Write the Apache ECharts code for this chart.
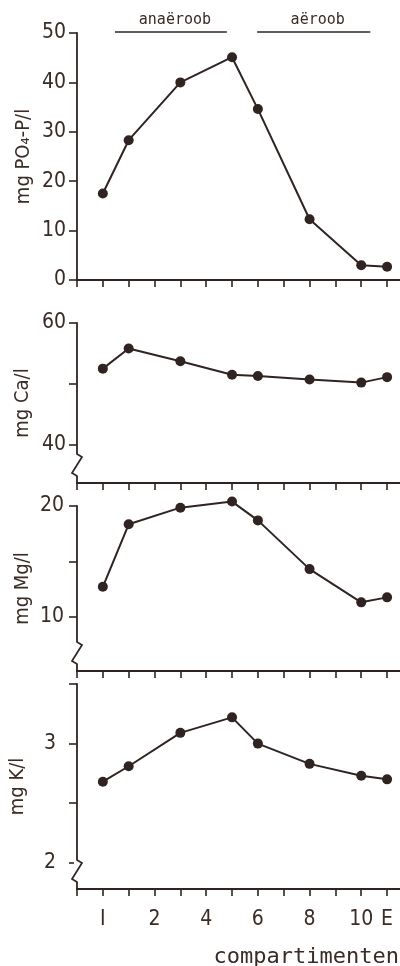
<!DOCTYPE html>
<html><head><meta charset="utf-8">
<script src="https://cdn.jsdelivr.net/npm/echarts@6/dist/echarts.min.js"></script>
<style>html,body{margin:0;padding:0;background:#fff}#c{width:400px;height:966px}</style>
</head><body><div id="c"></div>
<script>
// ---- data ----
const xPositions = [0, 1, 3, 5, 6, 8, 10, 11];
const xTickValues = [-1, 0, 1, 2, 3, 4, 5, 6, 7, 8, 9, 10, 11];
const xLabelValues = [0, 2, 4, 6, 8, 10, 11];
const xLabelText = {0: 'I', 2: '2', 4: '4', 6: '6', 8: '8', 10: '10', 11: 'E'};
const po4 = [17.5, 28.3, 40, 45.1, 34.6, 12.3, 3.0, 2.7];
const ca = [52.5, 55.8, 53.7, 51.5, 51.3, 50.7, 50.2, 51.1];
const mg = [12.7, 18.35, 19.85, 20.4, 18.7, 14.3, 11.3, 11.75];
const kal = [2.68, 2.81, 3.09, 3.22, 3.0, 2.83, 2.73, 2.70];
const yNames = ['mg PO₄-P/l', 'mg Ca/l', 'mg Mg/l', 'mg K/l'];
const yTicks = [[0, 10, 20, 30, 40, 50], [40, 50, 60], [10, 15, 20], [2, 2.5, 3, 3.5]];
const yLabels = [[0, 10, 20, 30, 40, 50], [40, 60], [10, 20], [2, 3]];
const yRanges = [[0, 50], [33.7, 60], [5.1, 20], [1.78, 3.5]];
const phases = [{name: 'anaëroob', from: 0.47, to: 4.8}, {name: 'aëroob', from: 5.97, to: 10.35}];
const xTitle = 'compartimenten';
const seriesValues = [po4, ca, mg, kal];

// ---- style / layout ----
const INK = '#2f2421';
const TXT = '#3a2b26';
const grids = [{top: 33, height: 247}, {top: 323, height: 160}, {top: 506, height: 165}, {top: 684, height: 205}];
const labelMargins = [11, 11, 13, 21];
const nameGaps = [43, 44, 44, 49];
const FONT = '"DejaVu Sans Condensed", "DejaVu Sans", sans-serif';

const chart = echarts.init(document.getElementById('c'), null, {renderer: 'canvas'});

const option = {
  backgroundColor: '#fff',
  animation: false,
  grid: grids.map(g => ({left: 77, right: 0, top: g.top, height: g.height, containLabel: false})),
  xAxis: grids.map((g, i) => ({
    type: 'value', gridIndex: i, min: -1, max: 11.5,
    axisLine: {show: true, onZero: false, lineStyle: {color: INK, width: 1.8}},
    axisTick: {show: true, inside: false, length: 7, customValues: xTickValues, lineStyle: {color: INK, width: 1.6}},
    axisLabel: {show: i === 3, customValues: xLabelValues, margin: 20, color: TXT, fontSize: 21, fontFamily: FONT,
      formatter: v => xLabelText[v] !== undefined ? xLabelText[v] : ''},
    splitLine: {show: false}
  })),
  yAxis: grids.map((g, i) => ({
    type: 'value', gridIndex: i, min: yRanges[i][0], max: yRanges[i][1],
    name: yNames[i], nameLocation: 'middle', nameRotate: 90, nameGap: nameGaps[i], nameMoveOverlap: false,
    nameTextStyle: {color: TXT, fontSize: 20, fontFamily: FONT},
    axisLine: {show: true, onZero: false, lineStyle: {color: INK, width: 1.8}},
    axisTick: {show: true, inside: false, length: 8, customValues: yTicks[i], lineStyle: {color: INK, width: 1.6}},
    axisLabel: {show: true, customValues: yLabels[i], margin: labelMargins[i], color: TXT, fontSize: 21, fontFamily: FONT,
      formatter: v => String(v)},
    splitLine: {show: false}
  })),
  series: seriesValues.map((vals, i) => ({
    type: 'line', xAxisIndex: i, yAxisIndex: i, clip: false,
    data: xPositions.map((x, j) => [x, vals[j]]),
    symbol: 'circle', symbolSize: 10, showSymbol: true,
    lineStyle: {color: INK, width: 2},
    itemStyle: {color: INK},
    z: 5
  }))
};
chart.setOption(option);

// ---- decorations computed through the axes ----
const graphics = [];
phases.forEach(p => {
  const x1 = chart.convertToPixel({xAxisIndex: 0}, p.from);
  const x2 = chart.convertToPixel({xAxisIndex: 0}, p.to);
  graphics.push({type: 'line', z: 100, shape: {x1: x1, y1: 32, x2: x2, y2: 32}, style: {stroke: INK, lineWidth: 1.7}});
  graphics.push({type: 'text', z: 100, x: (x1 + x2) / 2 + 4, y: 20,
    style: {text: p.name, fill: TXT, font: '15px "DejaVu Sans Mono", monospace', textAlign: 'center', textVerticalAlign: 'middle'}});
});
for (let gi = 1; gi < 4; gi++) {
  const ax = chart.convertToPixel({xAxisIndex: gi}, -1);
  const axisY = chart.convertToPixel({yAxisIndex: gi}, yRanges[gi][0]);
  const y0 = axisY - 29;
  graphics.push({type: 'rect', z: 100, shape: {x: ax - 3, y: y0 + 0.5, width: 6, height: 21}, style: {fill: '#fff'}});
  graphics.push({type: 'polyline', z: 101, shape: {points: [[ax, y0], [ax + 5, y0 + 3], [ax - 5, y0 + 19], [ax, y0 + 22]]},
    style: {stroke: INK, lineWidth: 1.7, fill: null}});
}
graphics.push({type: 'text', z: 100, x: 399, y: 957,
  style: {text: xTitle, fill: TXT, font: '22px "DejaVu Sans Mono", monospace', textAlign: 'right', textVerticalAlign: 'middle'}});
chart.setOption({graphic: graphics});
</script>
</body></html>
